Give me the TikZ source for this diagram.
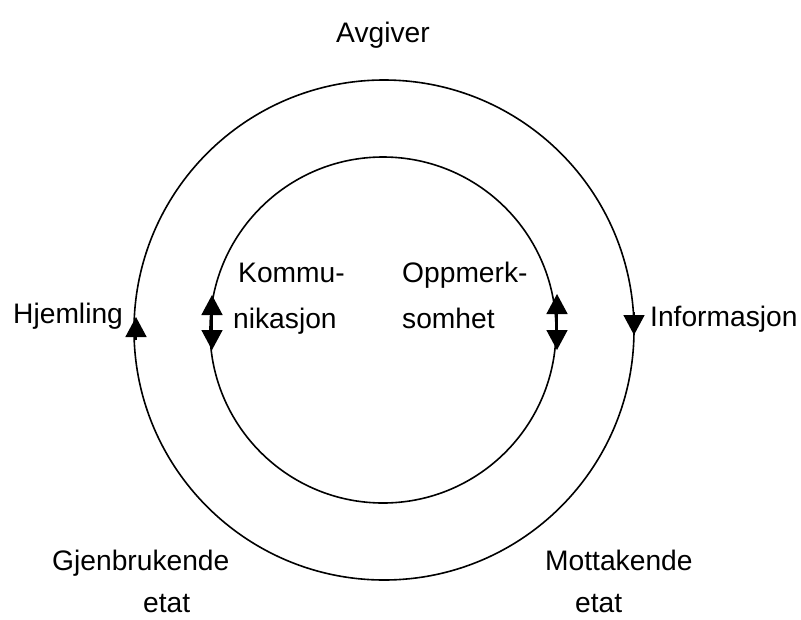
\documentclass[tikz,border=0pt]{standalone}
\usepackage{fontspec}
\setmainfont{Liberation Sans}
\usetikzlibrary{arrows.meta}
\begin{document}
\begin{tikzpicture}[x=1pt,y=-1pt,
  lbl/.style={inner sep=0pt,anchor=base west,font=\fontsize{28.2}{33}\selectfont},
  ring/.style={draw,circle,line width=1.6pt,inner sep=0pt},
  tip/.style={-{Triangle[width=21pt,length=20pt]},line width=1.6pt},
  dtip/.style={{Triangle[width=21pt,length=20pt]}-{Triangle[width=21pt,length=20pt]},line width=1.6pt}]
\useasboundingbox (0,0) rectangle (801,619);
\node[ring,minimum size=500pt] (outer) at (384,330) {};
\node[ring,minimum size=346pt] (inner) at (383,330) {};
% labels
\node[lbl,anchor=base] (avg) at (383,42) {Avgiver};
\node[lbl] (hje) at (13,323) {Hjemling};
\node[lbl] (inf) at (650,326) {Informasjon};
\node[lbl] (kom1) at (238,282) {Kommu-};
\node[lbl] (kom2) at (233,328) {nikasjon};
\node[lbl] (opp1) at (402,282) {Oppmerk-};
\node[lbl] (opp2) at (402,328) {somhet};
\node[lbl] (gje1) at (52,570) {Gjenbrukende};
\node[lbl] (gje2) at (143,612) {etat};
\node[lbl] (mot1) at (545,570) {Mottakende};
\node[lbl] (mot2) at (575,612) {etat};
% arrows
\coordinate (la1) at (136,340);
\coordinate (la2) at (136,317);
\coordinate (ra1) at (634,312);
\coordinate (ra2) at (634,335);
\coordinate (il1) at (212,350);
\coordinate (il2) at (212,295);
\coordinate (ir1) at (557,350);
\coordinate (ir2) at (557,294);
\draw[tip] (la1) -- (la2);
\draw[tip] (ra1) -- (ra2);
\draw[dtip] (il1) -- (il2);
\draw[dtip] (ir1) -- (ir2);
\end{tikzpicture}
\end{document}
